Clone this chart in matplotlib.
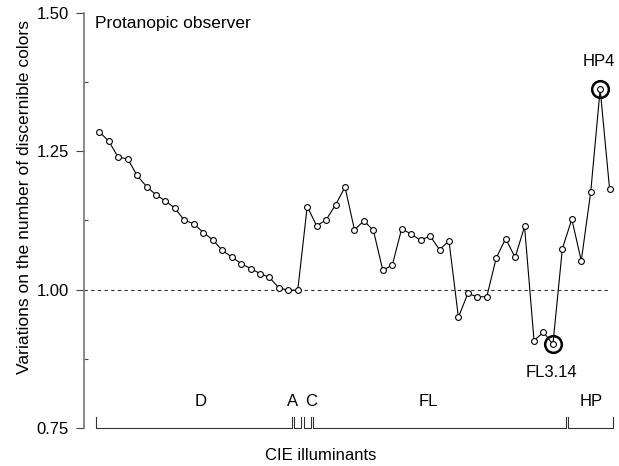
import numpy as np
import matplotlib.pyplot as plt
from matplotlib.ticker import MultipleLocator

plt.rcParams['font.family'] = 'Liberation Sans'
plt.rcParams['font.size'] = 12

# values, one list per illuminant group
d_values = [1.285, 1.268, 1.239, 1.236, 1.206, 1.186, 1.171, 1.160, 1.147, 1.125,
            1.119, 1.103, 1.090, 1.071, 1.059, 1.047, 1.038, 1.029, 1.022, 1.003, 0.999]
a_values = [0.999]
c_values = [1.150]
fl_values = [1.115, 1.126, 1.153, 1.185, 1.108, 1.124, 1.107, 1.035, 1.044, 1.110,
             1.100, 1.089, 1.097, 1.072, 1.088, 0.950, 0.993, 0.987, 0.987, 1.057,
             1.092, 1.058, 1.114, 0.908, 0.923, 0.901, 1.074]
hp_values = [1.127, 1.052, 1.176, 1.362, 1.181]

group_names = ['D', 'A', 'C', 'FL', 'HP']
group_values = [d_values, a_values, c_values, fl_values, hp_values]

# highlighted illuminants: (label, group, index in group)
highlights = [('HP4', 'HP', 3), ('FL3.14', 'FL', 25)]

yticks = [0.75, 1.00, 1.25, 1.50]

values = np.concatenate(group_values)
x = np.arange(len(values))

fig = plt.figure(figsize=(6.19, 4.66), dpi=100)
ax = fig.add_axes([84 / 619, 1 - 428 / 466, 531 / 619, (428 - 12.7) / 466])

ax.hlines(1.0, -1.62, x[-1], colors='#333333', linestyles=(0, (3, 3)), linewidth=0.8)
ax.plot(x, values, '-o', color='black', linewidth=0.8, markersize=4.2,
        markerfacecolor='white', markeredgecolor='black', markeredgewidth=0.8, zorder=3)

# circled points with labels
starts = np.cumsum([0] + [len(g) for g in group_values])
for label, grp, k in highlights:
    i = starts[group_names.index(grp)] + k
    ax.plot(x[i], values[i], 'o', markersize=12, markerfacecolor='none',
            markeredgecolor='black', markeredgewidth=1.8, zorder=4)
    dy = 20 if values[i] > 1 else -20
    ax.annotate(label, (x[i], values[i]), xytext=(-1, dy), textcoords='offset points',
                ha='center', va='center')

# group brackets below the data (label nudges as in the original figure)
nudge = {'D': 0.7, 'A': -0.6, 'C': 0.4, 'FL': -1.2, 'HP': 0.1}
gap = 0.12
for name, s, e in zip(group_names, starts[:-1], starts[1:]):
    x0, x1 = s - 0.5 + gap, e - 0.5 - gap
    ax.plot([x0, x0, x1, x1], [0.770, 0.75, 0.75, 0.770], color='#333333',
            linewidth=0.8, clip_on=False)
    ax.text((x0 + x1) / 2 + nudge[name], 0.797, name, ha='center', va='center')

ax.text(-0.45, 1.48, 'Protanopic observer', ha='left', va='center', fontsize=12.5)

ax.set_xlim(-1.62, 54.57)
ax.set_ylim(0.75, 1.50)
ax.set_xticks([])
ax.set_yticks(yticks)
ax.set_yticklabels(['%.2f' % t for t in yticks])
ax.yaxis.set_minor_locator(MultipleLocator(0.125))
ax.tick_params(axis='y', which='major', direction='out', length=6, width=0.8,
               color='#444444', pad=5)
ax.tick_params(axis='y', which='minor', direction='in', length=3, width=0.8, color='#444444')

for side in ['top', 'right', 'bottom']:
    ax.spines[side].set_visible(False)
ax.spines['left'].set_color('#777777')
ax.spines['left'].set_linewidth(1.2)

fig.text(25 / 619, 1 - 197 / 466, 'Variations on the number of discernible colors',
         rotation=90, ha='center', va='center', fontsize=12.6)
fig.text(321 / 619, 1 - 455 / 466, 'CIE illuminants', ha='center', va='center')

plt.savefig('out.png', dpi=100)
